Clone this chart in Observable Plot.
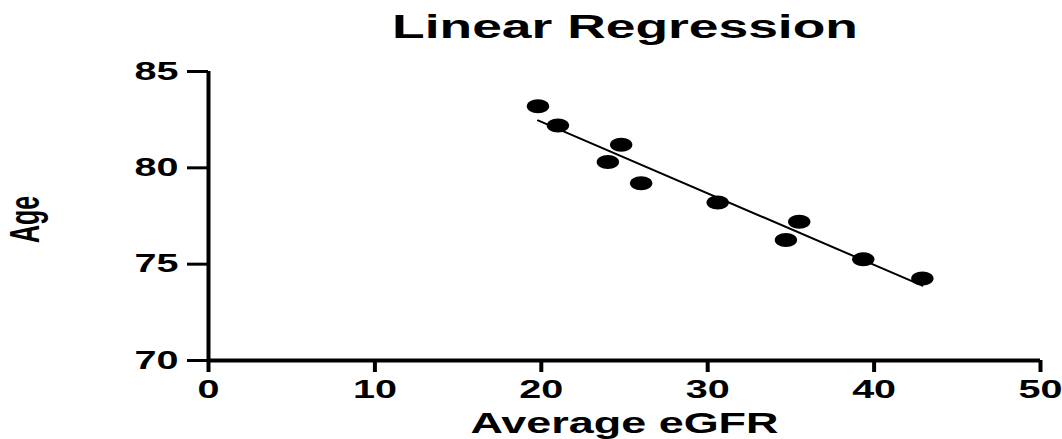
<!DOCTYPE html>
<html>
<head>
<meta charset="utf-8">
<script src="https://cdn.jsdelivr.net/npm/d3@7"></script>
<script src="https://cdn.jsdelivr.net/npm/@observablehq/plot@0.6"></script>
<style>
  html, body { margin: 0; padding: 0; background: #fff; }
  #wrap { width: 1062px; height: 439px; position: relative; overflow: hidden; font-family: "Liberation Sans", Arial, sans-serif; }
  #title { position: relative; height: 50px; }
  #title span { position: absolute; left: 625px; top: 7px; font-size: 34px; font-weight: bold; white-space: nowrap;
    transform: translateX(-50%) scaleX(1.57); line-height: normal; color: #000; }
  svg { display: block; }
</style>
</head>
<body>
<div id="wrap">
  <div id="title"><span id="titleText"></span></div>
  <div id="chart"></div>
</div>
<script>
const titleText = "Linear Regression";
const xLabel = "Average eGFR";
const yLabel = "Age";
const eGFR = [19.8, 21.0, 24.8, 24.0, 26.0, 30.6, 35.5, 34.7, 39.35, 42.9];
const age  = [83.2, 82.2, 81.2, 80.3, 79.2, 78.2, 77.2, 76.25, 75.25, 74.25];
const xTicks = [0, 10, 20, 30, 40, 50];
const yTicks = [70, 75, 80, 85];
const xDomain = [0, 50];
const yDomain = [70, 85];

document.getElementById("titleText").textContent = titleText;

const data = eGFR.map((x, i) => ({eGFR: x, age: age[i]}));

const ellipse = {
  draw(ctx, size) {
    const r = Math.sqrt(size / Math.PI);
    const rx = r * 1.6, ry = r, k = 0.5523;
    ctx.moveTo(rx, 0);
    ctx.bezierCurveTo(rx, ry * k, rx * k, ry, 0, ry);
    ctx.bezierCurveTo(-rx * k, ry, -rx, ry * k, -rx, 0);
    ctx.bezierCurveTo(-rx, -ry * k, -rx * k, -ry, 0, -ry);
    ctx.bezierCurveTo(rx * k, -ry, rx, -ry * k, rx, 0);
    ctx.closePath();
  }
};

const svg = Plot.plot({
  width: 1062,
  height: 389,
  marginLeft: 208,
  marginRight: 22,
  marginTop: 21,
  marginBottom: 79,
  style: {fontFamily: '"Liberation Sans", Arial, sans-serif', fontWeight: "bold", fontSize: "26px", color: "#000", background: "#fff"},
  x: {domain: xDomain, axis: null},
  y: {domain: yDomain, axis: null},
  marks: [
    Plot.axisX({ticks: xTicks, tickSize: 12, tickPadding: 7, strokeWidth: 4, label: null, fontSize: 26}),
    Plot.axisY({ticks: yTicks, tickSize: 21, tickPadding: 9, strokeWidth: 3, label: null, fontSize: 26}),
    Plot.ruleX([xDomain[0]], {stroke: "#000", strokeWidth: 4}),
    Plot.ruleY([yDomain[0]], {stroke: "#000", strokeWidth: 4}),
    Plot.linearRegressionY(data, {x: "eGFR", y: "age", stroke: "#000", strokeWidth: 2, ci: 0}),
    Plot.dot(data, {x: "eGFR", y: "age", r: 7, symbol: ellipse, fill: "#000", stroke: "none"}),
    Plot.text([xLabel], {frameAnchor: "bottom", textAnchor: "middle", lineAnchor: "middle", dy: 63, fontSize: 29, fontWeight: "bold", fill: "#000"}),
    Plot.text([yLabel], {frameAnchor: "left", textAnchor: "middle", lineAnchor: "middle", dx: -183, dy: 3.5, rotate: -90, fontSize: 25, fontWeight: "bold", fill: "#000"})
  ]
});

svg.querySelectorAll("text").forEach(t => {
  const tr = t.getAttribute("transform");
  if (!tr) return;
  const txt = t.textContent;
  const sx = txt === xLabel ? 1.55 : txt === yLabel ? 1.7 : 1.52;
  if (tr.includes("rotate")) {
    t.setAttribute("transform", tr.replace(/rotate/, `scale(${sx},1) rotate`));
  } else {
    t.setAttribute("transform", tr + ` scale(${sx},1)`);
  }
});

document.getElementById("chart").appendChild(svg);
</script>
</body>
</html>
